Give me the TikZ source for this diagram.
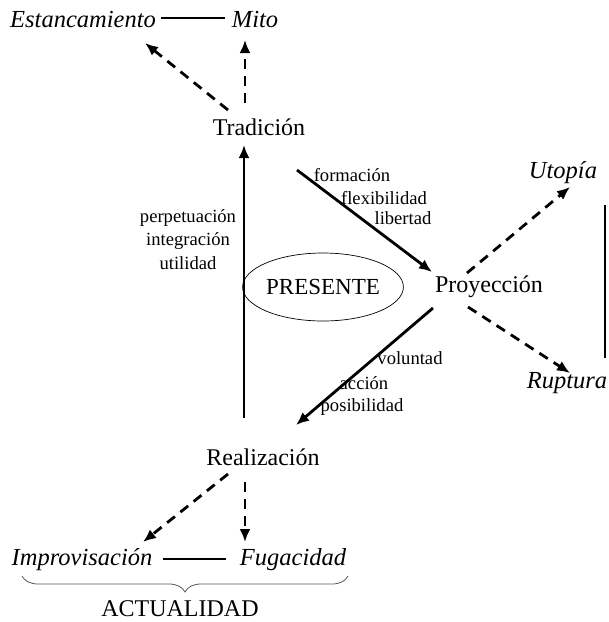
\documentclass[tikz,border=0pt]{standalone}
\usepackage{fontspec}
\setmainfont{Liberation Serif}
\usetikzlibrary{arrows.meta,decorations.pathreplacing,shapes.geometric,calc}
\begin{document}
\begin{tikzpicture}[x=1pt,y=-1pt,
  big/.style={font=\fontsize{24}{26}\selectfont, inner sep=0pt},
  bigit/.style={font=\fontsize{24.5}{26}\selectfont\itshape, inner sep=0pt},
  small/.style={font=\fontsize{18.6}{20}\selectfont, inner sep=0pt},
  solidarr/.style={line width=2.8pt, -{Latex[length=13pt,width=11pt]}},
  dasharr/.style={line width=2.8pt, dash pattern=on 10pt off 7pt, -{Latex[length=13pt,width=11pt]}},
  plain/.style={line width=2.8pt}]
\useasboundingbox (0,0) rectangle (609,622);
% nodes
\node[bigit] (est) at (83,20) {Estancamiento};
\node[bigit] (mito) at (255,20) {Mito};
\node[big] (trad) at (259,127) {Tradición};
\node[big] (proy) at (489,287) {Proyección};
\node[big] (real) at (263,457) {Realización};
\node[bigit] (uto) at (563,173) {Utopía};
\node[bigit] (rup) at (567,383) {Ruptura};
\node[bigit] (impr) at (82,560) {Improvisación};
\node[bigit] (fug) at (293,560) {Fugacidad};
\node[big] (act) at (180,609) {ACTUALIDAD};
\node[draw, line width=0.7pt, ellipse, minimum width=154pt, minimum height=68pt, inner sep=0pt, font=\fontsize{23}{25}\selectfont] (pres) at (323,287) {PRESENTE};
% small labels
\node[small] (l1) at (188,218) {perpetuación};
\node[small] (l2) at (188,241) {integración};
\node[small] (l3) at (188,263) {utilidad};
\node[small] (f1) at (352,175) {formación};
\node[small] (f2) at (384,198) {flexibilidad};
\node[small] (f3) at (403,218) {libertad};
\node[small] (v1) at (410,358) {voluntad};
\node[small] (v2) at (364,383) {acción};
\node[small] (v3) at (362,407) {posibilidad};
% coordinates
\coordinate (a1) at (228,110); \coordinate (a2) at (145,43);
\coordinate (b1) at (245,103); \coordinate (b2) at (245,40);
\coordinate (c1) at (244,418); \coordinate (c2) at (244,145);
\coordinate (d1) at (297,170); \coordinate (d2) at (432,272);
\coordinate (e1) at (467,273); \coordinate (e2) at (570,187);
\coordinate (g1) at (468,307); \coordinate (g2) at (570,373);
\coordinate (h1) at (433,308); \coordinate (h2) at (296,425);
\coordinate (i1) at (228,474); \coordinate (i2) at (143,542);
\coordinate (j1) at (245,482); \coordinate (j2) at (245,542);
\coordinate (r1) at (605,205); \coordinate (r2) at (605,358);
\coordinate (br1) at (22,576); \coordinate (br2) at (348,576);
% connectors
\draw[plain] ($(est.east)+(5,-2)$) -- ($(mito.west)+(-7,-2)$);
\draw[dasharr] (a1) -- (a2);
\draw[dasharr] (b1) -- (b2);
\draw[solidarr] (c1) -- (c2);
\draw[solidarr] (d1) -- (d2);
\draw[dasharr] (e1) -- (e2);
\draw[dasharr] (g1) -- (g2);
\draw[solidarr] (h1) -- (h2);
\draw[dasharr] (i1) -- (i2);
\draw[dasharr] (j1) -- (j2);
\draw[plain] (r1) -- (r2);
\draw[plain] ($(impr.east)+(10,-1)$) -- ($(fug.west)+(-14,-1)$);
\draw[line width=0.8pt, gray!70!black, decorate, decoration={brace, mirror, amplitude=16pt}] (br1) -- (br2);
\end{tikzpicture}
\end{document}
